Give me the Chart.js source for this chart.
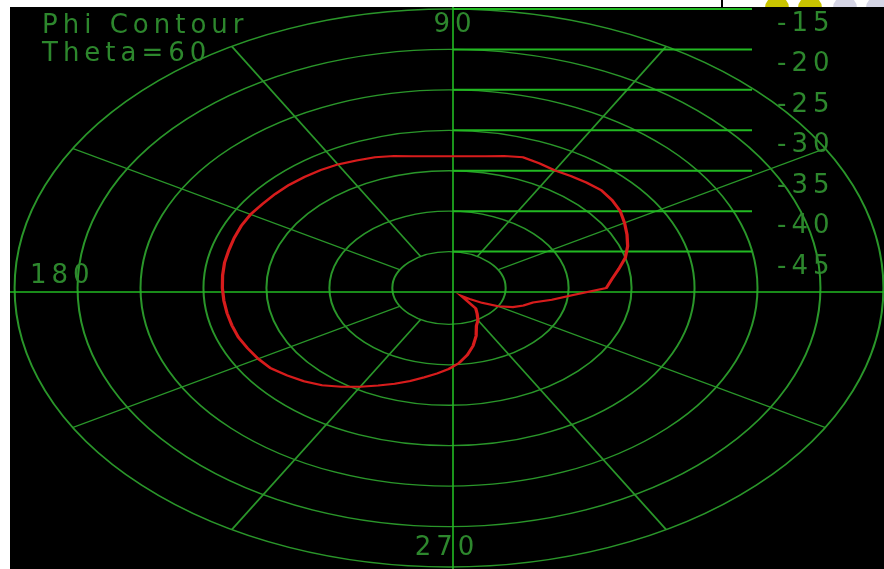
<!DOCTYPE html>
<html>
<head>
<meta charset="UTF-8">
<title>Phi Contour</title>
<script src="https://cdn.jsdelivr.net/npm/chart.js@4.4.1/dist/chart.umd.min.js"></script>
<style>
    body { margin: 0; background: #fff; width: 884px; height: 569px; overflow: hidden; position: relative; }
    #plot { position: absolute; left: 10px; top: 7px; width: 874px; height: 562px; background: #000; z-index: 2; }
    .tick { position: absolute; left: 721px; top: 0; width: 2px; height: 7px; background: #000; }
    .dot { position: absolute; top: -4px; width: 24px; height: 24px; border-radius: 12px; z-index: 1; }
</style>
</head>
<body>
<div class="tick"></div>
<div class="dot" style="left:765px;background:#c9c400"></div>
<div class="dot" style="left:798px;background:#c9c400"></div>
<div class="dot" style="left:833px;background:#d6d6e6"></div>
<div class="dot" style="left:866px;background:#d6d6e6"></div>
<div id="plot"><canvas id="polar"></canvas></div>
<script>
    // phi (deg) and gain (dB), theta = 60
    var PHI = [0, 5, 10, 15, 20, 25, 30, 35, 40, 45, 50, 55, 60, 65, 70, 75, 80, 85,
        90, 95, 100, 105, 110, 115, 120, 125, 130, 135, 140, 145, 150, 155, 160, 165, 170, 175,
        180, 185, 190, 195, 200, 205, 210, 215, 220, 225, 230, 235, 240, 245, 250, 255, 260, 265,
        270, 275, 280, 285, 290, 295, 300, 305, 310, 315, 320, 325, 330, 335, 340, 345, 350, 355];
    var GAIN = [-37.0, -36.5, -35.8, -35.0, -34.4, -33.9, -33.4, -32.9, -32.6, -32.4, -32.5, -32.6, -32.7, -32.5, -32.3, -32.6, -32.95, -33.15,
        -33.2, -33.15, -32.95, -32.6, -32.3, -32.1, -31.85, -31.7, -31.6, -31.5, -31.45, -31.4, -31.3, -31.3, -31.35, -31.4, -31.4, -31.45,
        -31.5, -31.55, -31.6, -31.65, -31.7, -31.85, -32.0, -32.2, -32.7, -33.2, -33.8, -34.6, -35.4, -36.2, -36.9, -37.6, -38.3, -38.9,
        -39.5, -40.2, -41.1, -42.1, -43.2, -44.35, -44.9, -45.6, -46.2, -48.1, -47.4, -46.3, -45.0, -43.9, -43.2, -42.6, -41.2, -39.6];
    var RINGS = [-45, -40, -35, -30, -25, -20, -15];
    var SPOKES = [30, 60, 120, 150, 210, 240, 300, 330];
    var AXIS_LABELS = [
        { text: '90', x: 445, y: 25, align: 'center' },
        { text: '180', x: 20, y: 276, align: 'left' },
        { text: '270', x: 437, y: 548, align: 'center' }
    ];
    var TITLE_LINES = ['Phi Contour', 'Theta=60'];

    var SX = 1.557;          // horizontal stretch, the plot is an ellipse
    var GRID = 'rgb(42,150,42)';
    var AXIS = 'rgb(34,185,34)';
    var TEXT = 'rgb(45,135,45)';
    var FONT = '26px "DejaVu Sans"';

    // radar goes clockwise from 3 o'clock (startAngle 90), phi goes anticlockwise
    var n = PHI.length;
    var labels = [], values = [];
    for (var i = 0; i < n; i++) {
        labels.push(PHI[(n - i) % n]);
        values.push(GAIN[(n - i) % n]);
    }
    function idxOf(p) {
        return labels.indexOf(p);
    }

    function baseCtx(chart) {
        var ctx = chart.ctx, d = chart.currentDevicePixelRatio;
        ctx.save();
        ctx.setTransform(d, 0, 0, d, 0, 0);
        return ctx;
    }

    var ellipse = {
        id: 'ellipse',
        beforeDraw: function (chart) {
            var r = chart.scales.r, ctx = chart.ctx;
            ctx.save();
            ctx.translate(r.xCenter, 0);
            ctx.scale(SX, 1);
            ctx.translate(-r.xCenter, 0);
        },
        beforeDatasetsDraw: function (chart) {
            var r = chart.scales.r, ctx = chart.ctx;
            // spokes, from the inner ring out
            ctx.save();
            ctx.strokeStyle = GRID;
            ctx.lineWidth = 1.3;
            SPOKES.forEach(function (p) {
                var a = r.getPointPositionForValue(idxOf(p), RINGS[0]);
                var b = r.getPointPositionForValue(idxOf(p), RINGS[RINGS.length - 1]);
                ctx.beginPath();
                ctx.moveTo(a.x, a.y);
                ctx.lineTo(b.x, b.y);
                ctx.stroke();
            });
            ctx.restore();

            // axes and the level marks on the right, unstretched
            ctx = baseCtx(chart);
            var ax = r.xCenter + 4, ay = r.yCenter + 4;
            ctx.strokeStyle = AXIS;
            ctx.lineWidth = 1.6;
            ctx.beginPath();
            ctx.moveTo(0, ay); ctx.lineTo(chart.width, ay);
            ctx.moveTo(ax, 0); ctx.lineTo(ax, chart.height);
            ctx.stroke();
            ctx.lineWidth = 2;
            RINGS.forEach(function (v) {
                var y = r.yCenter - r.getDistanceFromCenterForValue(v);
                ctx.beginPath();
                ctx.moveTo(ax, y);
                ctx.lineTo(742, y);
                ctx.stroke();
            });
            ctx.restore();
        },
        afterDatasetsDraw: function (chart) {
            chart.ctx.restore();
        },
        afterDraw: function (chart) {
            var r = chart.scales.r;
            var ctx = baseCtx(chart);
            ctx.fillStyle = TEXT;
            ctx.font = FONT;
            ctx.letterSpacing = '5px';
            ctx.textBaseline = 'alphabetic';
            ctx.textAlign = 'left';
            ctx.fillText(TITLE_LINES[0], 32, 26);
            ctx.fillText(TITLE_LINES[1], 32, 54);
            RINGS.slice().reverse().forEach(function (v) {
                var y = r.yCenter - r.getDistanceFromCenterForValue(v);
                ctx.fillText(String(v), 767, y + 22);
            });
            AXIS_LABELS.forEach(function (l) {
                ctx.textAlign = l.align;
                ctx.fillText(l.text, l.x, l.y);
            });
            ctx.restore();
        }
    };

    new Chart(document.getElementById('polar'), {
        type: 'radar',
        data: {
            labels: labels,
            datasets: [{
                label: 'Phi Contour',
                data: values,
                borderColor: 'rgb(215,28,28)',
                borderWidth: 2.1,
                pointRadius: 0,
                fill: false,
                tension: 0
            }]
        },
        options: {
            responsive: true,
            maintainAspectRatio: false,
            animation: false,
            events: [],
            layout: { padding: { left: 160, right: 155, top: 2, bottom: 2 } },
            plugins: { legend: { display: false }, tooltip: { enabled: false } },
            scales: {
                r: {
                    min: -49.5,
                    max: -15,
                    startAngle: 90,
                    ticks: { display: false, stepSize: 5 },
                    grid: { circular: true, color: GRID, lineWidth: 1.3 },
                    angleLines: { display: false },
                    pointLabels: { display: false }
                }
            }
        },
        plugins: [ellipse]
    });
</script>
</body>
</html>
